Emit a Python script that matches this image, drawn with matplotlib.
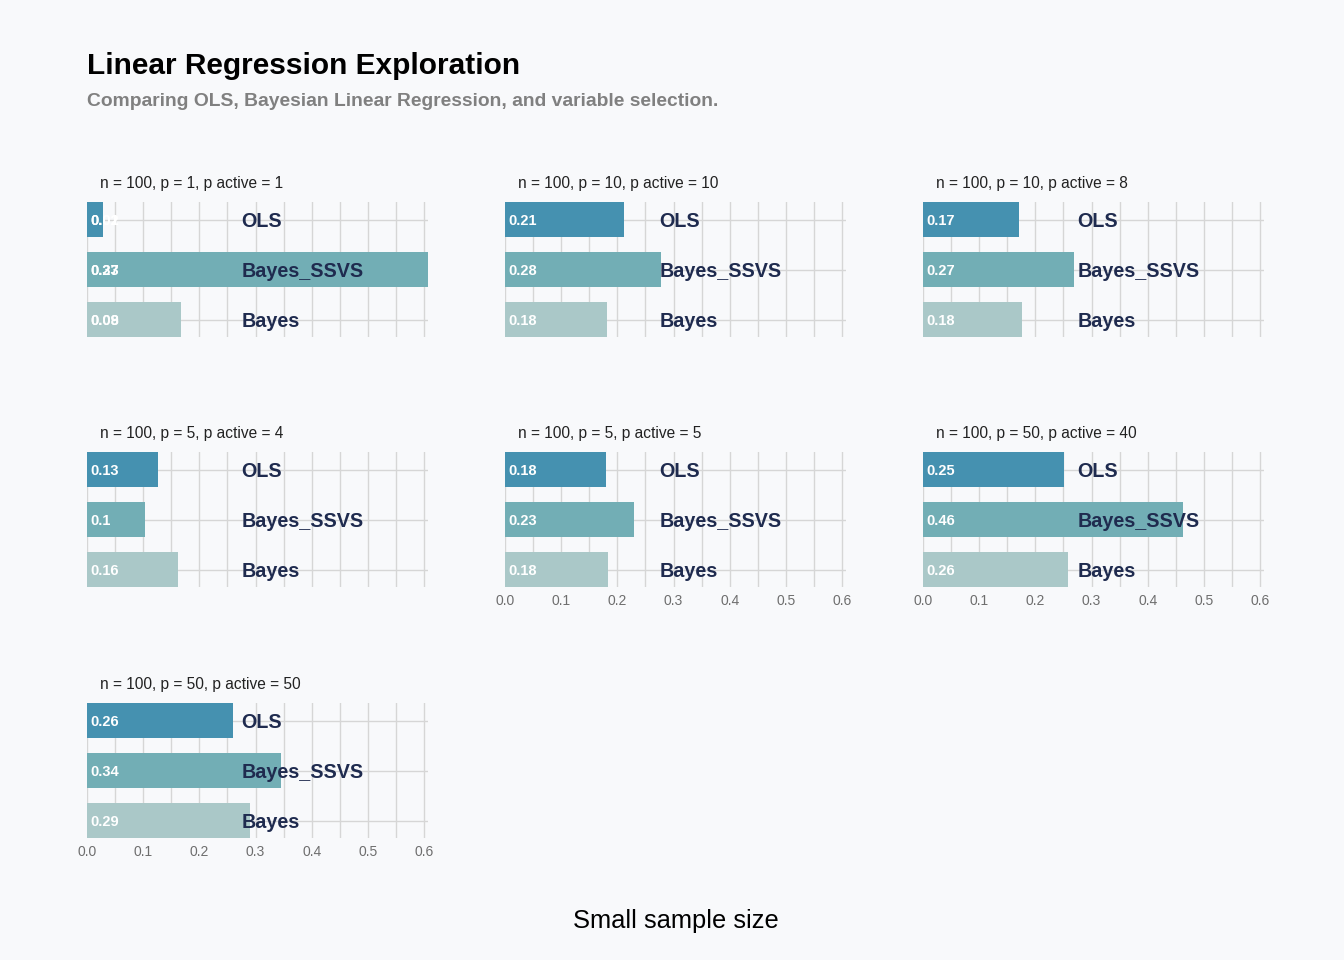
import matplotlib
matplotlib.use("Agg")
import matplotlib.pyplot as plt
from matplotlib.ticker import MultipleLocator
import numpy as np

plt.rcParams['font.family'] = ['Liberation Sans', 'DejaVu Sans']

# ---- data ----
panel_titles = [
    "n = 100, p = 1, p active = 1",
    "n = 100, p = 10, p active = 10",
    "n = 100, p = 10, p active = 8",
    "n = 100, p = 5, p active = 4",
    "n = 100, p = 5, p active = 5",
    "n = 100, p = 50, p active = 40",
    "n = 100, p = 50, p active = 50",
]
methods = ["OLS", "Bayes_SSVS", "Bayes"]
method_colors = ["#4591b0", "#72aeb5", "#aac8c8"]

# records: panel index, method, rmse (panel 0 has duplicate runs -> stacked)
rec_panel = [0, 0, 0, 0, 0, 0,
             1, 1, 1, 2, 2, 2, 3, 3, 3, 4, 4, 4, 5, 5, 5, 6, 6, 6]
rec_method = ["OLS", "OLS", "Bayes_SSVS", "Bayes_SSVS", "Bayes", "Bayes",
              "OLS", "Bayes_SSVS", "Bayes",
              "OLS", "Bayes_SSVS", "Bayes",
              "OLS", "Bayes_SSVS", "Bayes",
              "OLS", "Bayes_SSVS", "Bayes",
              "OLS", "Bayes_SSVS", "Bayes",
              "OLS", "Bayes_SSVS", "Bayes"]
rec_value = [0.012, 0.016, 0.273, 0.334, 0.079, 0.088,
             0.212, 0.278, 0.182,
             0.171, 0.269, 0.176,
             0.126, 0.103, 0.162,
             0.180, 0.230, 0.183,
             0.251, 0.463, 0.258,
             0.260, 0.345, 0.290]

x_ticks = [0.0, 0.1, 0.2, 0.3, 0.4, 0.5, 0.6]
x_max = 0.607

title = "Linear Regression Exploration"
subtitle = "Comparing OLS, Bayesian Linear Regression, and variable selection."
footer = "Small sample size"

# ---- layout ----
W, H = 1344, 960
bg = "#f8f9fb"
fig = plt.figure(figsize=(W / 100, H / 100), dpi=100, facecolor=bg)

col_left = [87, 505, 923]
row_top = [202, 452, 703]
ax_w, ax_h = 341, 135

fig.text(87 / W, 1 - 74 / H, title, fontsize=21.5, fontweight='bold',
         color='black', va='baseline', ha='left')
fig.text(87 / W, 1 - 106 / H, subtitle, fontsize=13.9, fontweight='bold',
         color='#808080', va='baseline', ha='left')
fig.text(676 / W, 1 - 921 / H, footer, fontsize=18.4, color='black',
         va='center', ha='center')

n_panels = len(panel_titles)
for pi in range(n_panels):
    r, c = divmod(pi, 3)
    left = col_left[c]
    top = row_top[r]
    ax = fig.add_axes([left / W, 1 - (top + ax_h) / H, ax_w / W, ax_h / H])
    ax.set_facecolor(bg)
    ax.set_xlim(0, x_max)
    ax.set_ylim(2.35, -0.35)
    for s in ax.spines.values():
        s.set_visible(False)
    ax.xaxis.set_major_locator(MultipleLocator(0.1))
    ax.xaxis.set_minor_locator(MultipleLocator(0.05))
    ax.grid(True, which='both', axis='x', color='#d6d6d6', lw=1, zorder=0)
    ax.set_axisbelow(True)
    ax.set_yticks([])
    for yi in range(len(methods)):
        ax.axhline(yi, color='#d6d6d6', lw=1, zorder=0)

    show_ticks = (pi + 3) >= n_panels
    if show_ticks:
        ax.set_xticks(x_ticks)
        ax.set_xticklabels([f"{t:.1f}" for t in x_ticks])
        ax.tick_params(axis='x', which='both', length=0, labelsize=10,
                       labelcolor='#6e6e6e', pad=5.3)
    else:
        ax.tick_params(axis='x', which='both', length=0, labelbottom=False)

    for mi, m in enumerate(methods):
        vals = [v for p, mm, v in zip(rec_panel, rec_method, rec_value)
                if p == pi and mm == m]
        start = 0.0
        for v in vals:
            ax.barh(mi, v, left=start, height=0.7, color=method_colors[mi],
                    zorder=2)
            start += v
        for v in vals:
            ax.annotate(f"{round(v, 2):g}", xy=(0, mi), xytext=(2.2, 0),
                        textcoords='offset points', ha='left',
                        va='center_baseline',
                        fontsize=10.5, fontweight='bold', color='white',
                        zorder=3)
        ax.text(0.2745, mi, m, ha='left', va='center_baseline', fontsize=14.2,
                fontweight='bold', color='#1f2b4f', zorder=4)

    fig.text((left + 12.5) / W, 1 - (top - 20) / H, panel_titles[pi],
             fontsize=11.2, color='#222222', ha='left', va='center_baseline')

fig.savefig("out.png", dpi=100, facecolor=bg)
